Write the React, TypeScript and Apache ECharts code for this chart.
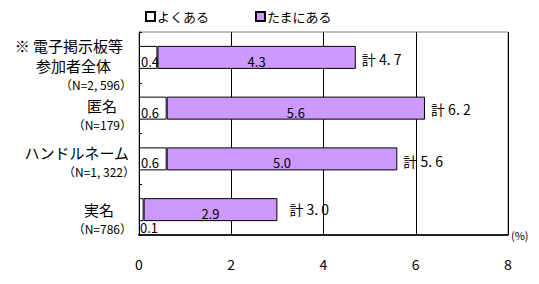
import React, { useEffect, useRef } from "react";
import * as echarts from "echarts";

const categories = ["電子掲示板等参加者全体", "匿名", "ハンドルネーム", "実名"];
const nameLines = [["※ 電子掲示板等", "参加者全体"], ["匿名"], ["ハンドルネーム"], ["実名"]];
const sampleSizes = ["（N=2, 596）", "（N=179）", "（N=1, 322）", "（N=786）"];
const often = [0.4, 0.6, 0.6, 0.1];
const sometimes = [4.3, 5.6, 5.0, 2.9];
const totals = [4.7, 6.2, 5.6, 3.0];
const xTicks = [0, 2, 4, 6, 8];
const seriesNames = ["よくある", "たまにある"];

const FONT = "'Noto Sans CJK JP', 'Noto Sans', sans-serif";
const PURPLE = "#CC99FF";

export default function App() {
  const ref = useRef<HTMLDivElement>(null);
  useEffect(() => {
    document.body.style.margin = "0";
    const chart = echarts.init(ref.current!, null, { renderer: "svg" });
    const spacer = [14, 12, 8, 18];
    const nameStyle = [["l1", "l2"], ["m2"], ["m3"], ["m4"]];
    const nStyle = ["n", "n", "n3", "n"];
    const totalOffsets = [[1, 2], [1, 1], [1, 2], [7, -1]];
    const option: any = {
      animation: false,
      textStyle: { fontFamily: FONT, fontWeight: "normal" },
      legend: {
        left: 140,
        top: 5,
        itemWidth: 9,
        itemHeight: 9,
        itemGap: 46,
        icon: "rect",
        textStyle: { fontSize: 13, color: "#000", fontFamily: FONT, padding: [0, 0, 0, -3] },
        data: seriesNames,
      },
      grid: {
        left: 139,
        right: 31,
        top: 32,
        bottom: 49,
        show: true,
        borderColor: "#808080",
        borderWidth: 1,
      },
      xAxis: {
        type: "value",
        min: xTicks[0],
        max: xTicks[xTicks.length - 1],
        interval: 2,
        name: "(%)",
        nameLocation: "end",
        nameGap: 3,
        nameTextStyle: { fontSize: 11, color: "#000", fontFamily: FONT, verticalAlign: "middle" },
        axisLine: { show: true, lineStyle: { color: "#222", width: 2 } },
        axisTick: { show: false },
        axisLabel: { margin: 22, fontSize: 14, color: "#000", fontFamily: FONT },
        splitLine: { show: true, lineStyle: { color: "#000", width: 1 } },
      },
      yAxis: {
        type: "category",
        inverse: true,
        data: categories,
        axisLine: { show: true, lineStyle: { color: "#000", width: 1 } },
        axisTick: { show: true, inside: true, length: 3, lineStyle: { color: "#000" } },
        axisLabel: {
          interval: 0,
          margin: 7,
          color: "#000",
          fontFamily: FONT,
          align: "right",
          formatter: (_v: string, i: number) => {
            const parts = [`{sp${i}| }`];
            nameLines[i].forEach((t, k) => parts.push(`{${nameStyle[i][k]}|${t}}`));
            parts.push(`{${nStyle[i]}|${sampleSizes[i]}}`);
            return parts.join("\n");
          },
          rich: {
            sp0: { fontSize: 4, lineHeight: spacer[0] },
            sp1: { fontSize: 4, lineHeight: spacer[1] },
            sp2: { fontSize: 4, lineHeight: spacer[2] },
            sp3: { fontSize: 4, lineHeight: spacer[3] },
            l1: { fontSize: 15, lineHeight: 20, padding: [0, 9, 0, 0], fontFamily: FONT },
            l2: { fontSize: 15, lineHeight: 20, padding: [0, 21, 0, 0], fontFamily: FONT },
            m2: { fontSize: 15, lineHeight: 20, padding: [0, 15, 0, 0], fontFamily: FONT },
            m3: { fontSize: 15, lineHeight: 18, padding: [0, 3, 0, 0], fontFamily: FONT },
            m4: { fontSize: 15, lineHeight: 20, padding: [0, 18, 0, 0], fontFamily: FONT },
            n: { fontSize: 12, lineHeight: 18, fontFamily: FONT },
            n3: { fontSize: 12, lineHeight: 20, padding: [0, -3, 0, 0], fontFamily: FONT },
          },
        },
        splitLine: { show: false },
      },
      series: [
        {
          name: seriesNames[0],
          type: "bar",
          stack: "total",
          barWidth: 23,
          itemStyle: { color: "#fff", borderColor: "#000", borderWidth: 1 },
          label: {
            show: true,
            position: "insideLeft",
            distance: 2,
            offset: [0, 4],
            fontSize: 13,
            color: "#000",
            fontFamily: FONT,
            formatter: (p: any) => p.value.toFixed(1),
          },
          data: often.map((v, i) =>
            i === 3 ? { value: v, label: { position: [1, 23], offset: [0, 0] } } : v
          ),
          z: 3,
        },
        {
          name: seriesNames[1],
          type: "bar",
          stack: "total",
          barWidth: 23,
          itemStyle: { color: PURPLE, borderColor: "#000", borderWidth: 1 },
          label: {
            show: true,
            position: "inside",
            offset: [0, 4],
            fontSize: 13,
            color: "#000",
            fontFamily: FONT,
            formatter: (p: any) => p.value.toFixed(1),
          },
          data: sometimes,
          z: 2,
        },
        {
          name: "計",
          type: "scatter",
          symbolSize: 2,
          itemStyle: { color: "rgba(255,255,255,0)" },
          label: {
            show: true,
            position: "right",
            distance: 4,
            fontSize: 14,
            color: "#000",
            opacity: 1,
            fontFamily: FONT,
            formatter: (p: any) => `計 ${p.value[0].toFixed(1).replace(".", ". ")}`,
          },
          data: totals.map((v, i) => ({ value: [v, i], label: { offset: totalOffsets[i] } })),
          z: 5,
        },
      ],
    };
    chart.setOption(option);
    return () => chart.dispose();
  }, []);
  return (
    <div
      ref={ref}
      style={{ position: "absolute", left: 0, top: 0, width: 539, height: 284, background: "#fff" }}
    />
  );
}
